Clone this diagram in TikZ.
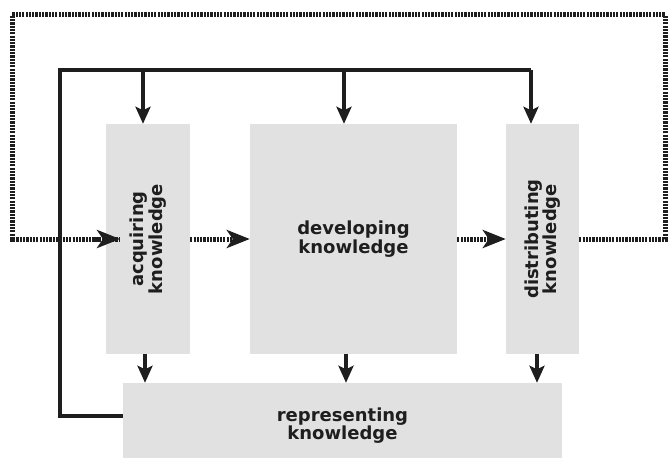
\documentclass[tikz,border=0pt]{standalone}
\usepackage{fontspec}
\setmainfont{DejaVu Sans}
\usetikzlibrary{arrows.meta}
\definecolor{boxgray}{HTML}{E1E1E1}
\definecolor{ink}{HTML}{1E1E1E}
\tikzset{
  box/.style={fill=boxgray, draw=none, inner sep=0pt, minimum width=#1},
  lbl/.style={font=\bfseries\fontsize{18}{17.5}\selectfont, text=ink, align=center, inner sep=0pt},
  solidline/.style={draw=ink, line width=3.3pt},
  solidarr/.style={solidline, -{Stealth[length=17pt,width=15pt,inset=3.5pt]}},
  dotline/.style={draw=ink, line width=5pt, dash pattern=on 2.2pt off 1.1pt},
  dotarr/.style={dotline, -{Stealth[length=23pt,width=18pt,inset=6pt]}},
}
\begin{document}
\begin{tikzpicture}[x=1pt,y=-1pt]
\useasboundingbox (0,0) rectangle (668,457);
% boxes
\node[box=84, minimum height=230] (acq) at (148,239) {};
\node[box=207, minimum height=230] (dev) at (353.5,239) {};
\node[box=73, minimum height=230] (dist) at (542.5,239) {};
\node[box=439, minimum height=87] (rep) at (342.5,426.5) {};
% labels
\node[lbl, rotate=90] (acqt) at (acq.center) {acquiring\\knowledge};
\node[lbl] (devt) at (dev.center) {developing\\knowledge};
\node[lbl, rotate=90] (distt) at (dist.center) {distributing\\knowledge};
\node[lbl] (rept) at ([yshift=1pt]rep.center) {representing\\knowledge};
% coordinates
\coordinate (tr) at (665,15);
\coordinate (tl) at (12,15);
\coordinate (acqin) at (120,239);
\coordinate (rl) at (123,416);
\coordinate (bl) at (60,416);
\coordinate (tt) at (60,70);
\coordinate (t1) at (143,70);
\coordinate (t2) at (344,70);
\coordinate (t3) at (531,70);
\coordinate (b1) at (145,0);
\coordinate (b2) at (346,0);
\coordinate (b3) at (537,0);
% dotted feedback loop
\draw[dotline] (dist.east) -| (tr) -- (tl) |- (acqin);
\draw[dotarr] ([xshift=-25pt]acqin) -- (acqin);
\draw[dotarr] (acq.east) -- (dev.west);
\draw[dotarr] (dev.east) -- (dist.west);
% solid lines
\draw[solidline] (rl) -- (bl) -- (tt) -- (t3);
\draw[solidarr] (t1) -- (t1 |- acq.north);
\draw[solidarr] (t2) -- (t2 |- dev.north);
\draw[solidarr] (t3) -- (t3 |- dist.north);
\draw[solidarr] (b1 |- acq.south) -- (b1 |- rep.north);
\draw[solidarr] (b2 |- dev.south) -- (b2 |- rep.north);
\draw[solidarr] (b3 |- dist.south) -- (b3 |- rep.north);
\end{tikzpicture}
\end{document}
